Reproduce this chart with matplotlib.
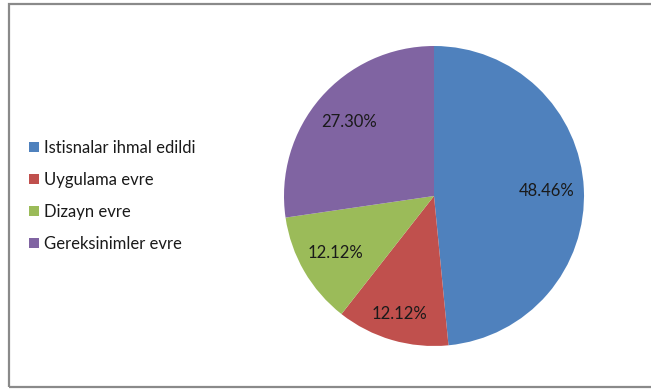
import numpy as np
import matplotlib.pyplot as plt
from matplotlib.patches import Rectangle

labels = ['Istisnalar ihmal edildi', 'Uygulama evre', 'Dizayn evre', 'Gereksinimler evre']
shares = [48.46, 12.12, 12.12, 27.30]
colors = ['#4F81BD', '#C0504D', '#9BBB59', '#8064A2']
# radial position of each percentage label (fraction of radius)
label_radius = [0.75, 0.82, 0.76, 0.75]

plt.rcParams['font.family'] = ['Lato', 'DejaVu Sans']

W, H = 651, 389
fig = plt.figure(figsize=(W / 100, H / 100), dpi=100)

# outer chart frame
fig.patches.append(Rectangle((9 / W, 1 - 387 / H), 660 / W, 383 / H,
                             transform=fig.transFigure, fill=False,
                             edgecolor='#8a8a8a', linewidth=1.6))

cx, cy, r = 434, 196, 150
ax = fig.add_axes([(cx - r) / W, 1 - (cy + r) / H, 2 * r / W, 2 * r / H])
wedges, _ = ax.pie(shares, colors=colors, startangle=90, counterclock=False,
                   radius=1, wedgeprops=dict(linewidth=0))
ax.set_xlim(-1, 1)
ax.set_ylim(-1, 1)
ax.set_aspect('equal')
ax.axis('off')

for w, val, rr in zip(wedges, shares, label_radius):
    ang = np.deg2rad((w.theta1 + w.theta2) / 2)
    ax.text(rr * np.cos(ang), rr * np.sin(ang), f'{val:.2f}%',
            ha='center', va='center', fontsize=12, color='#1a1a1a')

fig.legend(wedges, labels, loc='center left', bbox_to_anchor=(21 / W, 1 - 196 / H),
           frameon=False, fontsize=12, handlelength=0.55, handleheight=0.55,
           handletextpad=0.35, labelspacing=0.95, borderpad=0, labelcolor='#1a1a1a')

fig.savefig('out.png', dpi=100)
